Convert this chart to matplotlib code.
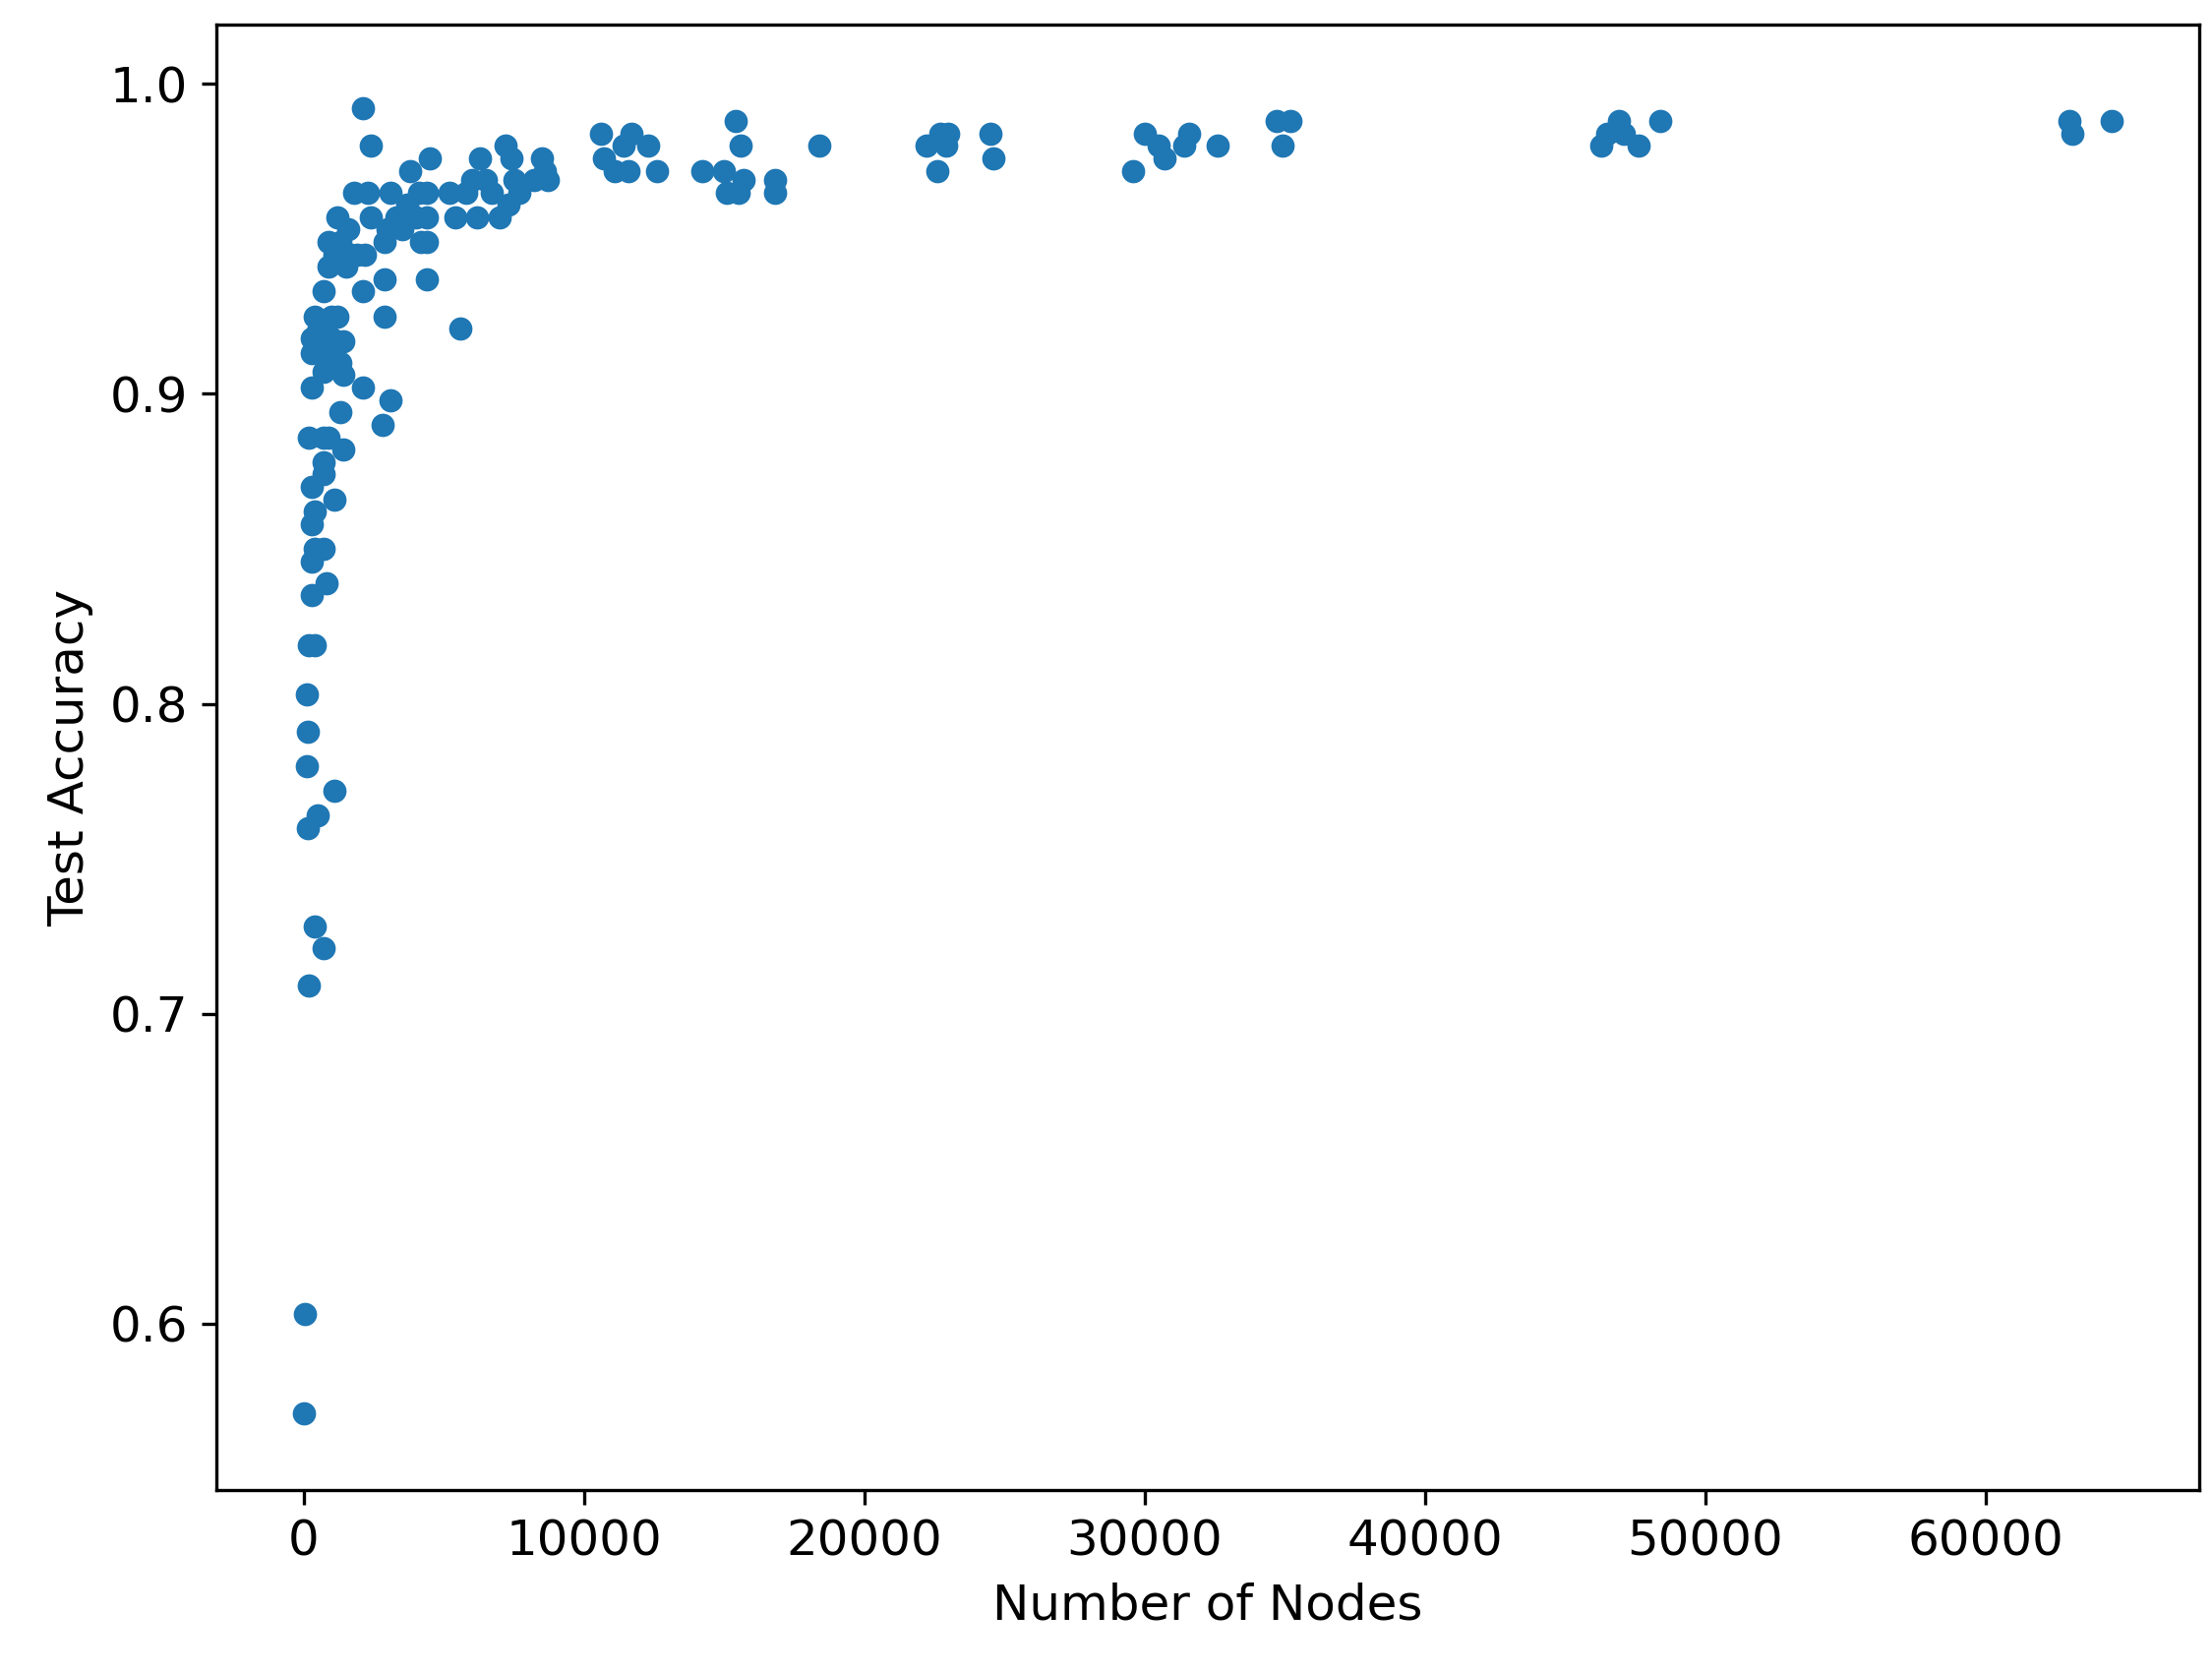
import matplotlib
matplotlib.use("Agg")
import matplotlib.pyplot as plt

nodes = [0,50,200,150,100,150,100,200,400,300,300,400,700,800,400,300,300,700,700,1100,200,700,900,300,
300,400,300,500,400,700,800,1000,1200,1000,700,500,700,400,1100,1300,1400,1300,1400,1400,
900,900,1200,1300,1100,1500,1700,1600,1800,1900,2100,2100,2200,2400,2300,2400,2100,
2800,2900,2900,3100,2900,3000,3100,3300,3500,3700,3800,4000,4100,4200,4400,4400,4400,4400,4500,
5200,5400,5600,5800,6000,6200,6300,6500,6700,7000,7200,7300,7400,7500,7700,8200,8500,8600,8700,
10600,10700,11100,11400,11600,11700,12300,12600,
14200,15000,15100,15400,15500,15600,15700,16800,16800,18400,
22200,22600,22700,22900,23000,24500,24600,
29600,30000,30500,30700,31400,31600,32600,
34700,34900,35200,46300,46500,46900,47100,47600,48400,63000,63100,64500]
accuracy = [0.571,0.603,0.709,0.76,0.78,0.791,0.803,0.819,0.819,0.835,0.846,0.85,0.85,0.839,0.862,0.858,0.87,0.874,0.878,0.866,0.886,0.886,0.886,0.902,
0.913,0.916,0.918,0.92,0.925,0.907,0.914,0.918,0.925,0.925,0.933,0.764,0.721,0.728,0.772,0.894,0.882,0.91,0.906,0.917,
0.941,0.949,0.957,0.949,0.945,0.941,0.945,0.953,0.965,0.945,0.902,0.933,0.945,0.957,0.965,0.98,0.992,
0.89,0.925,0.937,0.898,0.949,0.953,0.965,0.957,0.953,0.961,0.972,0.957,0.965,0.949,0.937,0.949,0.957,0.965,0.976,
0.965,0.957,0.921,0.965,0.969,0.957,0.976,0.969,0.965,0.957,0.98,0.961,0.976,0.969,0.965,0.969,0.976,0.972,0.969,
0.984,0.976,0.972,0.98,0.972,0.984,0.98,0.972,
0.972,0.972,0.965,0.988,0.965,0.98,0.969,0.969,0.965,0.98,
0.98,0.972,0.984,0.98,0.984,0.984,0.976,
0.972,0.984,0.98,0.976,0.98,0.984,0.98,
0.988,0.98,0.988,0.98,0.984,0.988,0.984,0.98,0.988,0.988,0.984,0.988]

plt.rcParams['font.size'] = 12
fig = plt.figure(figsize=(7.497, 5.667), dpi=300)
ax = fig.add_axes([0.098, 0.109, 0.896, 0.876])
ax.scatter(nodes, accuracy, s=22, color='#1f77b4')
ax.set_xlim(-3100, 67600)
ax.set_ylim(0.5464, 1.019)
ax.set_yticks([0.6, 0.7, 0.8, 0.9, 1.0])
ax.set_xlabel('Number of Nodes')
ax.set_ylabel('Test Accuracy')
fig.savefig('out.png', dpi=300)
